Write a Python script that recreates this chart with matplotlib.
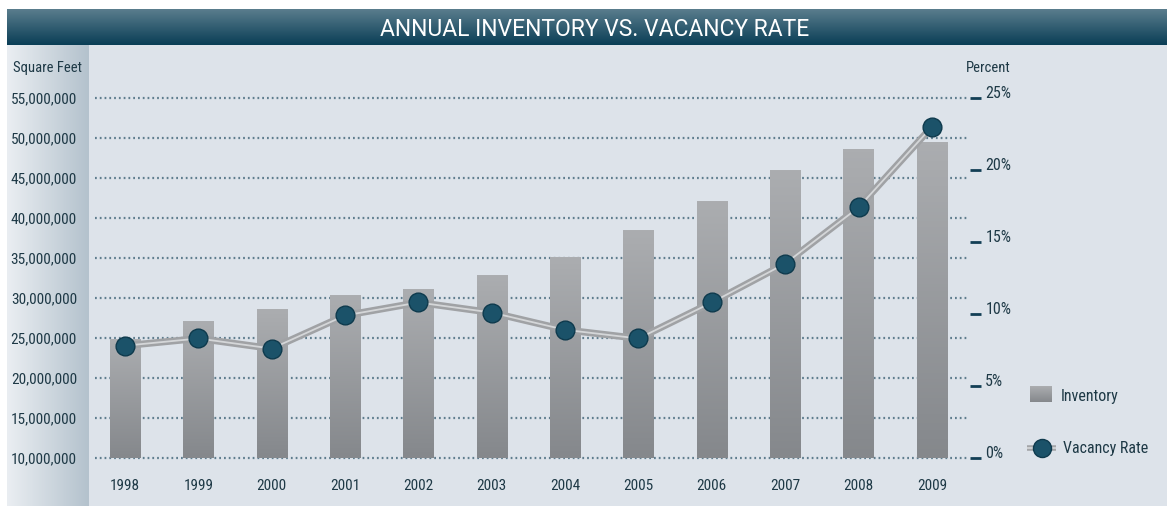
import numpy as np
import matplotlib
matplotlib.use("Agg")
import matplotlib.pyplot as plt
from matplotlib import font_manager
from matplotlib.colors import LinearSegmentedColormap
from matplotlib.patches import Rectangle
from matplotlib.ticker import FuncFormatter

years = ['1998', '1999', '2000', '2001', '2002', '2003',
         '2004', '2005', '2006', '2007', '2008', '2009']
inventory = [24.8e6, 27.1e6, 28.6e6, 30.3e6, 31.0e6, 32.8e6,
             35.1e6, 38.4e6, 42.1e6, 45.9e6, 48.6e6, 49.4e6]
vacancy = [7.8, 8.3, 7.6, 9.9, 10.8, 10.1, 8.9, 8.3, 10.8, 13.5, 17.4, 23.0]
left_ticks = [10e6, 15e6, 20e6, 25e6, 30e6, 35e6, 40e6, 45e6, 50e6, 55e6]
right_ticks = [0, 5, 10, 15, 20, 25]

W, H = 1173, 508
TXT = '#1e3946'

# pick a condensed face if one is installed
fonts = [(f.name, f.stretch) for f in font_manager.fontManager.ttflist]
family, stretch = 'DejaVu Sans', 'normal'
for name, st in fonts:
    if name in ('Liberation Sans Narrow', 'Roboto Condensed', 'Open Sans Condensed'):
        family, stretch = name, 'normal'
        break
else:
    for name, st in fonts:
        if name in ('DejaVu Sans', 'Roboto', 'Noto Sans', 'Open Sans') and \
                str(st) in ('condensed', 'semi-condensed', '75', '87', '62.5'):
            family, stretch = name, 'condensed'
            break
condensed = stretch == 'condensed' or family != 'DejaVu Sans'
plt.rcParams['font.family'] = [family, 'DejaVu Sans']
plt.rcParams['font.stretch'] = stretch
fs = 11 if condensed else 9.5

fig = plt.figure(figsize=(W / 100, H / 100), dpi=100)
fig.patch.set_facecolor('white')

# background: panel, left strip, title bar (pixel coordinates)
bg = fig.add_axes([0, 0, 1, 1], zorder=-5)
bg.add_patch(Rectangle((7, 45), 1160, 461, color='#dde3ea', lw=0, zorder=-2))
strip = LinearSegmentedColormap.from_list('strip', ['#eaeef2', '#b4c2cd'])
bg.imshow(np.linspace(0, 1, 100)[None, :], cmap=strip, aspect='auto',
          extent=[7, 89, 506, 45])
head = LinearSegmentedColormap.from_list('head', ['#5a7d8d', '#0a3e56'])
bg.imshow(np.linspace(0, 1, 100)[:, None], cmap=head, aspect='auto',
          extent=[7, 1167, 45, 9])
bg.text(595, 29, 'ANNUAL INVENTORY VS. VACANCY RATE', color='white',
        fontsize=16.5, ha='center', va='center',
        family=['Roboto', 'DejaVu Sans'], stretch='normal')
bg.text(82, 68, 'Square Feet', color=TXT, fontsize=fs - 0.5, ha='right', va='center')
bg.text(988, 68, 'Percent', color=TXT, fontsize=fs - 0.5, ha='center', va='center')

# legend
bargrad = LinearSegmentedColormap.from_list('bar', ['#abadb0', '#85888c'])
bg.imshow(np.linspace(0, 1, 50)[:, None], cmap=bargrad, aspect='auto',
          extent=[1030, 1052, 402, 386])
bg.text(1061, 396, 'Inventory', color=TXT, fontsize=fs + 0.5, va='center')
bg.plot([1027, 1056], [448, 448], color='#a3a5a8', lw=4, solid_capstyle='butt')
bg.plot([1027, 1056], [448, 448], color='#d6d8da', lw=1.2, solid_capstyle='butt')
bg.plot([1042], [448], 'o', ms=13, color='#1b5269', mec='#0e3a4d', mew=1)
bg.text(1063, 448, 'Vacancy Rate', color=TXT, fontsize=fs + 0.5, va='center')
bg.set_xlim(0, W)
bg.set_ylim(H, 0)
bg.axis('off')

# main axes
x0, x1, ytop, ybot = 95, 970, 98, 458
ax = fig.add_axes([x0 / W, 1 - ybot / H, (x1 - x0) / W, (ybot - ytop) / H])
ax.patch.set_alpha(0)
x = np.arange(len(years))

bars = ax.bar(x, [v - 10e6 for v in inventory], bottom=10e6, width=0.41,
              color='none', zorder=3)
for b in bars:
    ax.imshow(np.linspace(0, 1, 100)[:, None], cmap=bargrad, aspect='auto',
              extent=[b.get_x(), b.get_x() + b.get_width(),
                      b.get_y(), b.get_y() + b.get_height()],
              origin='upper', zorder=3)
ax.set_xlim(-0.41, 11.52)
ax.set_ylim(10e6, 55e6)

ax.set_yticks(left_ticks)
ax.yaxis.set_major_formatter(FuncFormatter(lambda v, p: f'{int(v):,}'))
ax.set_xticks(x)
ax.set_xticklabels(years)
for yv in left_ticks:
    ax.axhline(yv, color='#5f7d8e', lw=1.6, ls=(0, (0.8, 1.35)),
               dash_capstyle='butt', zorder=1, clip_on=False,
               xmax=(968 - x0) / (x1 - x0))
ax.tick_params(axis='y', length=0, pad=13, labelsize=fs, labelcolor=TXT)
ax.tick_params(axis='x', length=0, pad=15, labelsize=fs, labelcolor=TXT)
for s in ax.spines.values():
    s.set_visible(False)

ax2 = ax.twinx()
ax2.set_ylim(0, 25)
ax2.plot(x, vacancy, color='#a0a2a5', lw=5, zorder=4, solid_joinstyle='round')
ax2.plot(x, vacancy, color='#d4d6d8', lw=1.3, zorder=5, solid_joinstyle='round')
ax2.plot(x, vacancy, 'o', ms=13.5, color='#1b5269', mec='#0e3a4d', mew=1, zorder=6)
ax2.set_yticks(right_ticks)
ax2.set_yticklabels([f'{t}%' for t in right_ticks])
ax2.tick_params(axis='y', direction='out', length=8, width=2, color='#123f55',
                pad=3, labelsize=fs + 0.5, labelcolor=TXT)
for lbl in ax2.get_yticklabels():
    lbl.set_va('baseline')
for s in ax2.spines.values():
    s.set_visible(False)

fig.savefig('out.png', dpi=100)
